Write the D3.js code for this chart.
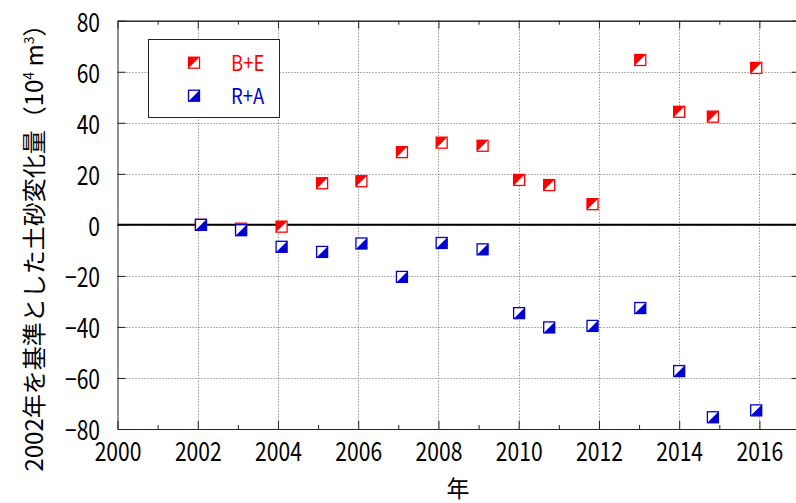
<!DOCTYPE html>
<html>
<head>
<meta charset="utf-8">
<script src="https://cdn.jsdelivr.net/npm/d3@7"></script>
<style>
  html, body { margin: 0; padding: 0; background: #fff; }
  svg { display: block; }
  text { font-family: "Noto Sans CJK JP", "Noto Sans", sans-serif; }
</style>
</head>
<body>
<svg id="chart" width="796" height="503"></svg>
<script>
// Survey dates (decimal years) and sediment change relative to 2002 (10^4 m^3)
const years    = [2002.08, 2003.08, 2004.09, 2005.10, 2006.08, 2007.09, 2008.08, 2009.10, 2010.01, 2010.76, 2011.84, 2013.03, 2014.00, 2014.84, 2015.92];
const beValues = [0, -1.5, -0.7, 16.3, 17.1, 28.5, 32.2, 31.0, 17.6, 15.6, 8.1, 64.6, 44.3, 42.4, 61.5];
const raValues = [0, -2.1, -8.6, -10.6, -7.3, -20.4, -7.1, -9.6, -34.6, -40.2, -39.6, -32.6, -57.3, -75.4, -72.7];

const seriesNames = ["B+E", "R+A"];
const xTickValues = [2000, 2002, 2004, 2006, 2008, 2010, 2012, 2014, 2016];
const xMinorTicks = [2001, 2003, 2005, 2007, 2009, 2011, 2013, 2015];
const yTickValues = [-80, -60, -40, -20, 0, 20, 40, 60, 80];

const RED = "#ff0000", BLUE = "#0000d0";
const svg = d3.select("#chart");

const plotL = 117.5, plotR = 117.5 + 17 * 40.12, plotT = 20.7, plotB = 429;
const x = d3.scaleLinear().domain([2000, 2017]).range([plotL, plotR]);
const y = d3.scaleLinear().domain([-80, 80]).range([plotB, plotT]);
const sx = 0.78;

// dotted grid
const grid = svg.append("g").attr("stroke", "#666").attr("stroke-width", 1).attr("stroke-dasharray", "1,2");
grid.selectAll("line.v").data(xTickValues.filter(d => d > 2000)).join("line")
  .attr("x1", d => Math.round(x(d)) + 0.5).attr("x2", d => Math.round(x(d)) + 0.5)
  .attr("y1", plotT).attr("y2", plotB);
grid.selectAll("line.h").data(yTickValues.filter(d => d > -80 && d < 80)).join("line")
  .attr("x1", plotL).attr("x2", plotR)
  .attr("y1", d => Math.round(y(d)) + 0.5).attr("y2", d => Math.round(y(d)) + 0.5);

// zero line
svg.append("line").attr("x1", plotL).attr("x2", plotR)
  .attr("y1", y(0)).attr("y2", y(0)).attr("stroke", "#000").attr("stroke-width", 2);

function styleAxis(g) {
  g.select(".domain").attr("stroke", "#222");
  g.selectAll(".tick line").attr("stroke", "#222");
}

// bottom axis with labels
const gx = svg.append("g").attr("transform", `translate(0,${plotB})`)
  .call(d3.axisBottom(x).tickValues(xTickValues).tickFormat(d3.format("d")).tickSize(-8).tickSizeOuter(0));
styleAxis(gx);
gx.selectAll(".tick text")
  .attr("y", 32.5).attr("dy", null)
  .attr("transform", `scale(${sx},1)`)
  .attr("font-size", 27).attr("fill", "#000")
  .style("font-family", '"Noto Sans CJK JP", sans-serif');
svg.append("g").attr("transform", `translate(0,${plotB})`)
  .call(d3.axisBottom(x).tickValues(xMinorTicks).tickFormat("").tickSize(-4).tickSizeOuter(0))
  .call(styleAxis);

// top axis
svg.append("g").attr("transform", `translate(0,${plotT})`)
  .call(d3.axisTop(x).tickValues(xTickValues).tickFormat("").tickSize(-8).tickSizeOuter(0))
  .call(styleAxis);
svg.append("g").attr("transform", `translate(0,${plotT})`)
  .call(d3.axisTop(x).tickValues(xMinorTicks).tickFormat("").tickSize(-4).tickSizeOuter(0))
  .call(styleAxis);

// left axis with labels
const gy = svg.append("g").attr("transform", `translate(${plotL},0)`)
  .call(d3.axisLeft(y).tickValues(yTickValues).tickSize(-8).tickSizeOuter(0));
styleAxis(gy);
gy.selectAll(".tick text")
  .attr("x", -17.5 / sx).attr("y", 10.5).attr("dy", null)
  .attr("transform", `scale(${sx},1)`)
  .attr("text-anchor", "end")
  .attr("font-size", 27).attr("fill", "#000")
  .style("font-family", '"Noto Sans CJK JP", sans-serif');

// right axis
svg.append("g").attr("transform", `translate(${plotR},0)`)
  .call(d3.axisRight(y).tickValues(yTickValues).tickFormat("").tickSize(-8).tickSizeOuter(0))
  .call(styleAxis);

// half-filled square markers
const S = 11;
function marker(g, color, upper) {
  g.append("rect").attr("x", -S / 2).attr("y", -S / 2).attr("width", S).attr("height", S)
    .attr("fill", "#fff").attr("stroke", color).attr("stroke-width", 1.3);
  const h = S / 2;
  const pts = upper
    ? [[-h, -h], [h, -h], [-h, h]]
    : [[h, -h], [h, h], [-h, h]];
  g.append("path").attr("d", "M" + pts.map(p => p.join(",")).join("L") + "Z").attr("fill", color);
}

const beData = years.map((t, i) => ({ t, v: beValues[i] }));
const raData = years.map((t, i) => ({ t, v: raValues[i] }));

svg.append("g").selectAll("g").data(beData).join("g")
  .attr("transform", d => `translate(${x(d.t)},${y(d.v)})`)
  .each(function () { marker(d3.select(this), RED, true); });
svg.append("g").selectAll("g").data(raData).join("g")
  .attr("transform", d => `translate(${x(d.t)},${y(d.v)})`)
  .each(function () { marker(d3.select(this), BLUE, false); });

// legend
const lg = svg.append("g");
lg.append("rect").attr("x", 148.5).attr("y", 39.5).attr("width", 131).attr("height", 78)
  .attr("fill", "#fff").attr("stroke", "#222").attr("stroke-width", 1);
[[RED, true, 62.7], [BLUE, false, 95.7]].forEach(([c, up, cy], i) => {
  marker(lg.append("g").attr("transform", `translate(194,${cy})`), c, up);
  lg.append("text").attr("transform", `translate(231,${cy + 8}) scale(0.84,1)`)
    .attr("font-size", 22).attr("fill", c).text(seriesNames[i]);
});

// axis titles
svg.append("text").attr("x", 458).attr("y", 497).attr("text-anchor", "middle")
  .attr("font-size", 23).attr("fill", "#000").text("年");

const yt = svg.append("text").attr("transform", "translate(43,242) rotate(-90)")
  .attr("text-anchor", "middle").attr("font-size", 24).attr("fill", "#000");
yt.append("tspan").text("2002年を基準とした土砂変化量（10");
yt.append("tspan").attr("dy", -9).attr("font-size", 14).text("4");
yt.append("tspan").attr("dy", 9).text(" m");
yt.append("tspan").attr("dy", -9).attr("font-size", 14).text("3");
yt.append("tspan").attr("dy", 9).text("）");
</script>
</body>
</html>
